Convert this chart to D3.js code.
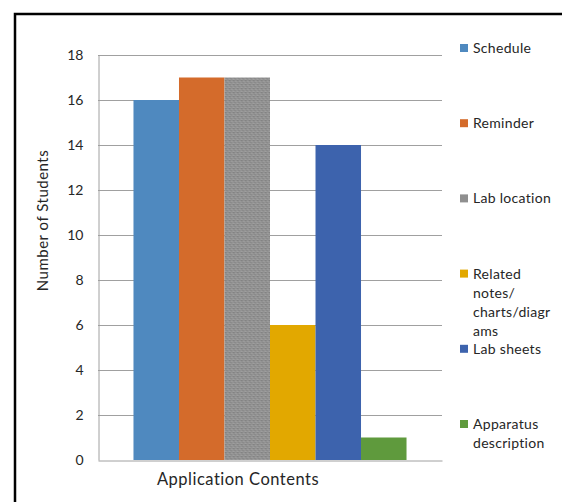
<!DOCTYPE html>
<html>
<head>
<meta charset="utf-8">
<script src="https://cdn.jsdelivr.net/npm/d3@7/dist/d3.min.js"></script>
<style>
  html, body { margin: 0; padding: 0; background: #fff; }
  svg { display: block; }
  text { font-family: Lato, "Open Sans", sans-serif; fill: #262626; }
</style>
</head>
<body>
<script>
// Survey: which application contents students want
const category = "Application Contents";
const seriesNames = ["Schedule", "Reminder", "Lab location", "Related notes/ charts/diagr ams", "Lab sheets", "Apparatus description"];
const legendLines = [["Schedule"], ["Reminder"], ["Lab location"], ["Related", "notes/", "charts/diagr", "ams"], ["Lab sheets"], ["Apparatus", "description"]];
const seriesValues = [16, 17, 17, 6, 14, 1];
const seriesColors = ["#4f89bf", "#d46b2b", "#8f8f8f", "#e2a800", "#3d63ad", "#5f9a3d"];
const yTicks = [0, 2, 4, 6, 8, 10, 12, 14, 16, 18];

const W = 562, H = 502;
const svg = d3.select("body").append("svg").attr("width", W).attr("height", H);

// Speckled fill used for the grey bar
const defs = svg.append("defs");
const pat = defs.append("pattern").attr("id", "speckle").attr("patternUnits", "userSpaceOnUse")
  .attr("width", 4).attr("height", 4);
pat.append("rect").attr("width", 4).attr("height", 4).attr("fill", "#929292");
[[0,0,"#7f7f7f"],[2,1,"#a3a3a3"],[1,2,"#838383"],[3,3,"#9c9c9c"],[3,0,"#888"],[0,3,"#a0a0a0"]].forEach(([x,y,c]) =>
  pat.append("rect").attr("x", x).attr("y", y).attr("width", 1).attr("height", 1).attr("fill", c));

// Outer frame (open to the right and bottom)
svg.append("path").attr("d", "M15,520 L15,14 L600,14")
  .attr("fill", "none").attr("stroke", "#000").attr("stroke-width", 2.5);

const plot = { left: 98, right: 442, top: 55, bottom: 460 };

const y = d3.scaleLinear().domain([0, 18]).range([plot.bottom, plot.top]);
const x0 = d3.scaleBand().domain([category]).range([plot.left, plot.right]).padding(0.115);
const x1 = d3.scaleBand().domain(seriesNames).range([0, x0.bandwidth()]).padding(0);

// Horizontal gridlines
svg.append("g").selectAll("line").data(yTicks.filter(d => d > 0)).join("line")
  .attr("x1", plot.left).attr("x2", plot.right)
  .attr("y1", d => Math.round(y(d)) + 0.5).attr("y2", d => Math.round(y(d)) + 0.5)
  .attr("stroke", "#a0a0a0").attr("stroke-width", 1);

// Y axis
const yAxis = d3.axisLeft(y).tickValues(yTicks).tickSize(0).tickPadding(15);
const gy = svg.append("g").attr("transform", `translate(${plot.left + 0.5},0)`).call(yAxis);
gy.select(".domain").attr("stroke", "#a0a0a0");
gy.selectAll("text").style("font-size", "14px").attr("fill", "#262626");

// Bars
const g = svg.append("g").attr("transform", `translate(${x0(category)},0)`);
g.selectAll("rect").data(seriesValues).join("rect")
  .attr("x", (d, i) => x1(seriesNames[i]))
  .attr("y", d => y(d))
  .attr("width", x1.bandwidth())
  .attr("height", d => y(0) - y(d))
  .attr("fill", (d, i) => i === 2 ? "url(#speckle)" : seriesColors[i]);

// X axis baseline and category label
const xAxis = d3.axisBottom(x0).tickSize(0).tickPadding(13);
const gx = svg.append("g").attr("transform", `translate(0,${Math.round(y(0)) + 0.5})`).call(xAxis);
gx.select(".domain").attr("stroke", "#a0a0a0");
gx.selectAll(".tick").attr("transform", "translate(238,0)");
gx.selectAll("text").style("font-size", "16.5px").style("letter-spacing", "0.5px").attr("fill", "#262626");

// Y axis title
svg.append("text")
  .attr("transform", `translate(48,${(plot.top + plot.bottom) / 2 - 37}) rotate(-90)`)
  .attr("text-anchor", "middle")
  .style("font-size", "15px").style("letter-spacing", "0.5px")
  .text("Number of Students");

// Legend
const legendY = d3.scaleLinear().domain([0, 5]).range([48, 424]);
const lg = svg.append("g");
legendLines.forEach((lines, i) => {
  const cy = legendY(i);
  lg.append("rect").attr("x", 460).attr("y", cy - 4).attr("width", 8).attr("height", 8)
    .attr("fill", seriesColors[i]);
  const t = lg.append("text").attr("x", 473).attr("y", cy + 5).style("font-size", "14px").style("letter-spacing", "0.3px");
  lines.forEach((ln, j) => t.append("tspan").attr("x", 473).attr("dy", j === 0 ? 0 : 19).text(ln));
});
</script>
</body>
</html>
